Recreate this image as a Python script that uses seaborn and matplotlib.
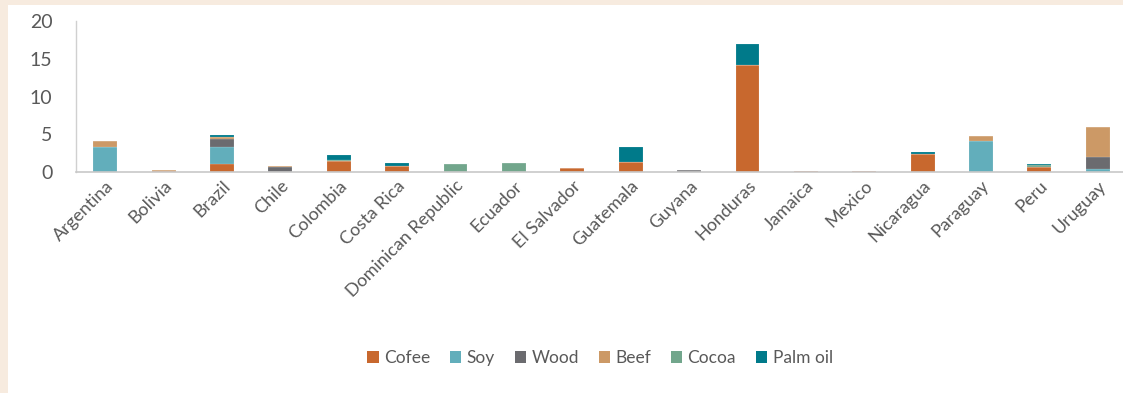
import matplotlib
matplotlib.use("Agg")
import matplotlib.pyplot as plt
from matplotlib.patches import Rectangle, Patch
import numpy as np
import pandas as pd
import seaborn as sns

countries = ["Argentina", "Bolivia", "Brazil", "Chile", "Colombia", "Costa Rica",
             "Dominican Republic", "Ecuador", "El Salvador", "Guatemala", "Guyana",
             "Honduras", "Jamaica", "Mexico", "Nicaragua", "Paraguay", "Peru", "Uruguay"]

cofee = [0.0, 0.08, 1.05, 0.0, 1.45, 0.85, 0.0, 0.05, 0.5, 1.3, 0.0, 14.15, 0.15, 0.07, 2.45, 0.0, 0.7, 0.0]
soy = [3.3, 0.0, 2.25, 0.0, 0.0, 0.0, 0.0, 0.0, 0.0, 0.0, 0.0, 0.0, 0.0, 0.0, 0.0, 4.05, 0.0, 0.45]
wood = [0.0, 0.1, 1.05, 0.65, 0.0, 0.0, 0.0, 0.0, 0.0, 0.0, 0.2, 0.0, 0.0, 0.0, 0.0, 0.0, 0.0, 1.5]
beef = [0.8, 0.15, 0.35, 0.1, 0.0, 0.0, 0.0, 0.0, 0.05, 0.0, 0.0, 0.0, 0.0, 0.0, 0.0, 0.75, 0.0, 3.95]
cocoa = [0.0, 0.0, 0.0, 0.0, 0.1, 0.0, 1.0, 1.15, 0.0, 0.0, 0.0, 0.0, 0.0, 0.07, 0.0, 0.0, 0.25, 0.0]
palm_oil = [0.0, 0.0, 0.15, 0.0, 0.65, 0.35, 0.0, 0.0, 0.0, 2.05, 0.0, 2.85, 0.0, 0.0, 0.2, 0.0, 0.05, 0.0]

series_names = ["Cofee", "Soy", "Wood", "Beef", "Cocoa", "Palm oil"]
series_values = [cofee, soy, wood, beef, cocoa, palm_oil]
colors = ["#c8682e", "#62aebb", "#6b6b6f", "#cc9966", "#72a68c", "#007a8a"]
y_ticks = [0, 5, 10, 15, 20]

text_color = "#595959"
sns.set_theme(style="white")
plt.rcParams["font.family"] = ["Lato", "DejaVu Sans"]

fig = plt.figure(figsize=(11.23, 3.93), dpi=100)
W, H = 1123, 393

# beige frame strips along the top and left edges
fig.patches.append(Rectangle((0, 1 - 5 / H), 1, 5 / H, transform=fig.transFigure,
                             facecolor="#f7ebdf", edgecolor="none", zorder=0))
fig.patches.append(Rectangle((0, 0), 8 / W, 1, transform=fig.transFigure,
                             facecolor="#f7ebdf", edgecolor="none", zorder=0))

ax = fig.add_axes([76 / W, (H - 172) / H, 1051 / W, (172 - 21) / H])

bottom = np.zeros(len(countries))
for name, vals, col in zip(series_names, series_values, colors):
    df = pd.DataFrame({"country": countries, "value": vals})
    sns.barplot(data=df, x="country", y="value", ax=ax, color=col, width=0.41,
                bottom=bottom, edgecolor=(1, 1, 1, 0.35), linewidth=0.3,
                errorbar=None, saturation=1)
    bottom = bottom + np.array(vals)

ax.set_xlim(-0.5, len(countries) - 0.5)
ax.set_ylim(0, 20)
ax.set_yticks(y_ticks)
ax.set_yticklabels([str(t) for t in y_ticks], fontsize=14, color=text_color)
ax.tick_params(axis="y", length=0, pad=17)
ax.tick_params(axis="x", length=0, pad=4)
ax.set_xticks(range(len(countries)))
ax.set_xticklabels(countries, rotation=45, ha="right", rotation_mode="anchor",
                   fontsize=13, color=text_color)
ax.set_xlabel("")
ax.set_ylabel("")
for s in ["top", "right"]:
    ax.spines[s].set_visible(False)
ax.spines["left"].set_color("#d0d0d0")
ax.spines["bottom"].set_color("#c8c8c8")
ax.spines["left"].set_linewidth(1)
ax.spines["bottom"].set_linewidth(1.2)
ax.grid(False)

handles = [Patch(facecolor=c, edgecolor="none", label=n) for n, c in zip(series_names, colors)]
fig.legend(handles=handles, loc="center", bbox_to_anchor=(600 / W, 1 - 358 / H), ncol=6,
           frameon=False, handlelength=0.65, handleheight=0.65, handletextpad=0.3,
           columnspacing=1.15, fontsize=12.5, labelcolor=text_color)

fig.savefig("out.png", dpi=100)
